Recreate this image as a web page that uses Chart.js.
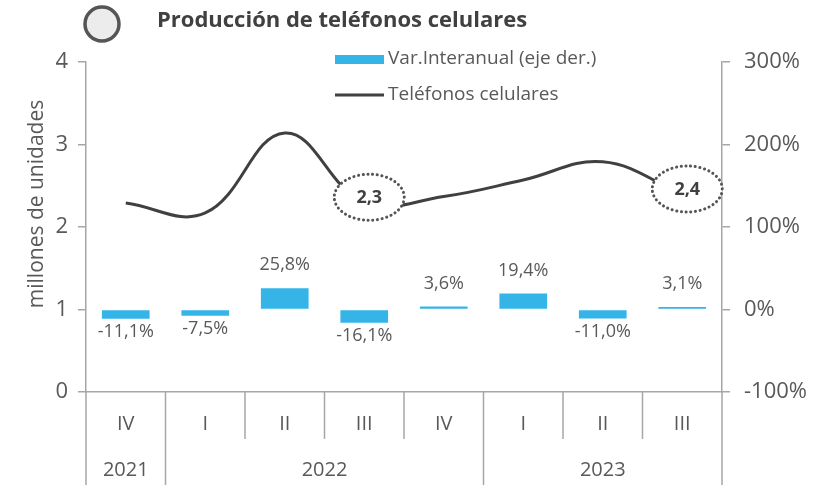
<!DOCTYPE html>
<html>
<head>
<meta charset="utf-8">
<script src="https://cdn.jsdelivr.net/npm/chart.js@4.4.1/dist/chart.umd.min.js"></script>
<style>
  html, body { margin: 0; padding: 0; background: #fff; }
</style>
</head>
<body>
<canvas id="chart" width="826" height="485"></canvas>
<script>
// --- data ---
const quarters = ['IV', 'I', 'II', 'III', 'IV', 'I', 'II', 'III'];
const years = ['2021', '2022', '2022', '2022', '2022', '2023', '2023', '2023'];
const phones = [2.29, 2.17, 3.14, 2.3, 2.37, 2.57, 2.79, 2.4];   // millones de unidades
const yoyVar = [-11.1, -7.5, 25.8, -16.1, 3.6, 19.4, -11.0, 3.1]; // % (eje der.)
const leftTicks = [0, 1, 2, 3, 4];
const rightTicks = [-100, 0, 100, 200, 300];
const callouts = [3, 7]; // points circled with their value

const GREY = '#595959';
const DARK = '#404040';
const AXIS = '#a6a6a6';
const BLUE = '#35b4e8';
const FONT = "'Open Sans', sans-serif";

const fmt = v => v.toFixed(1).replace('.', ',');

// draws title, legend, axis title, x labels, bar labels and callouts
const decorations = {
    id: 'decorations',
    afterDatasetsDraw(chart) {
        const { ctx, scales } = chart;
        const x = scales.x, y = scales.y, y1 = scales.y1;
        ctx.save();

        // bar value labels
        ctx.fillStyle = GREY;
        ctx.font = `18px ${FONT}`;
        ctx.textAlign = 'center';
        ctx.textBaseline = 'middle';
        yoyVar.forEach((v, i) => {
            const px = x.getPixelForValue(i);
            const py = y1.getPixelForValue(v);
            const base = y1.getPixelForValue(0);
            const ly = v >= 0 ? Math.min(py, base) - 23 : Math.max(py, base) + 13;
            ctx.fillText(fmt(v) + '%', px, ly);
        });

        // dotted callouts on the line
        callouts.forEach(i => {
            const px = x.getPixelForValue(i) + 5;
            const py = y.getPixelForValue(phones[i]) - 5;
            ctx.beginPath();
            ctx.ellipse(px, py, 35, 23, 0, 0, Math.PI * 2);
            ctx.fillStyle = '#fff';
            ctx.fill();
            ctx.setLineDash([0.1, 4.6]);
            ctx.lineCap = 'round';
            ctx.lineWidth = 3;
            ctx.strokeStyle = '#555';
            ctx.stroke();
            ctx.setLineDash([]);
            ctx.fillStyle = DARK;
            ctx.font = `bold 18px ${FONT}`;
            ctx.fillText(fmt(phones[i]), px, py + 1);
        });
        ctx.restore();
    },
    afterDraw(chart) {
        const { ctx, scales, chartArea } = chart;
        const x = scales.x;
        ctx.save();

        // title with circle icon
        ctx.beginPath();
        ctx.arc(102, 24, 17, 0, Math.PI * 2);
        ctx.fillStyle = '#ececec';
        ctx.fill();
        ctx.lineWidth = 3.5;
        ctx.strokeStyle = '#555';
        ctx.stroke();
        ctx.fillStyle = DARK;
        ctx.font = `bold 22px ${FONT}`;
        ctx.textAlign = 'left';
        ctx.textBaseline = 'middle';
        ctx.fillText('Producción de teléfonos celulares', 157, 21);

        // legend
        const ds = chart.data.datasets;
        ctx.fillStyle = BLUE;
        ctx.fillRect(335, 55, 49, 9);
        ctx.strokeStyle = DARK;
        ctx.lineWidth = 3;
        ctx.beginPath();
        ctx.moveTo(335, 95);
        ctx.lineTo(384, 95);
        ctx.stroke();
        ctx.fillStyle = GREY;
        ctx.font = `19px ${FONT}`;
        ctx.fillText(ds[1].label, 388, 59);
        ctx.fillText(ds[0].label, 388, 95);

        // y axis title
        ctx.save();
        ctx.translate(37, 204);
        ctx.rotate(-Math.PI / 2);
        ctx.textAlign = 'center';
        ctx.font = `21px ${FONT}`;
        ctx.fillText('millones de unidades', 0, 0);
        ctx.restore();

        // category axis: quarter / year labels and separators
        const half = (x.getPixelForValue(1) - x.getPixelForValue(0)) / 2;
        const top = chartArea.bottom;
        ctx.strokeStyle = AXIS;
        ctx.lineWidth = 1.5;
        for (let i = 0; i <= quarters.length; i++) {
            const bx = i < quarters.length ? x.getPixelForValue(i) - half : x.getPixelForValue(i - 1) + half;
            const yearEdge = i === 0 || i === quarters.length || years[i] !== years[i - 1];
            ctx.beginPath();
            ctx.moveTo(bx, top);
            ctx.lineTo(bx, yearEdge ? chart.height : top + 47);
            ctx.stroke();
        }
        ctx.fillStyle = GREY;
        ctx.textAlign = 'center';
        ctx.font = `20px ${FONT}`;
        quarters.forEach((q, i) => ctx.fillText(q, x.getPixelForValue(i), top + 32));
        let start = 0;
        for (let i = 1; i <= years.length; i++) {
            if (i === years.length || years[i] !== years[start]) {
                const cx = (x.getPixelForValue(start) + x.getPixelForValue(i - 1)) / 2;
                ctx.fillText(years[start], cx, top + 78);
                start = i;
            }
        }
        ctx.restore();
    }
};

new Chart(document.getElementById('chart'), {
    data: {
        labels: quarters,
        datasets: [
            {
                type: 'line',
                label: 'Teléfonos celulares',
                data: phones,
                yAxisID: 'y',
                borderColor: DARK,
                borderWidth: 3,
                tension: 0.4,
                pointRadius: 0,
                order: 0
            },
            {
                type: 'bar',
                label: 'Var.Interanual (eje der.)',
                data: yoyVar,
                yAxisID: 'y1',
                backgroundColor: BLUE,
                barPercentage: 0.6,
                categoryPercentage: 1,
                order: 1
            }
        ]
    },
    options: {
        responsive: false,
        animation: false,
        devicePixelRatio: 1,
        layout: { padding: { top: 62, left: 0, right: 0, bottom: 0 } },
        plugins: {
            legend: { display: false },
            tooltip: { enabled: false }
        },
        scales: {
            x: {
                offset: true,
                grid: { display: false },
                ticks: { display: false },
                border: { color: AXIS, width: 1.5 },
                afterFit: s => { s.height = 93; }
            },
            y: {
                position: 'left',
                min: 0, max: 4,
                afterBuildTicks: s => { s.ticks = leftTicks.map(v => ({ value: v })); },
                ticks: { color: GREY, font: { family: FONT, size: 22 }, padding: 10 },
                grid: { drawOnChartArea: false, color: AXIS, tickLength: 8, lineWidth: 1.5 },
                border: { color: AXIS, width: 1.5 },
                afterFit: s => { s.width = 86; }
            },
            y1: {
                position: 'right',
                min: -100, max: 300,
                afterBuildTicks: s => { s.ticks = rightTicks.map(v => ({ value: v })); },
                ticks: { color: GREY, font: { family: FONT, size: 22 }, padding: 14, callback: v => v + '%' },
                grid: { drawOnChartArea: false, color: AXIS, tickLength: 8, lineWidth: 1.5 },
                border: { color: AXIS, width: 1.5 },
                afterFit: s => { s.width = 104; }
            }
        }
    },
    plugins: [decorations]
});
</script>
</body>
</html>
